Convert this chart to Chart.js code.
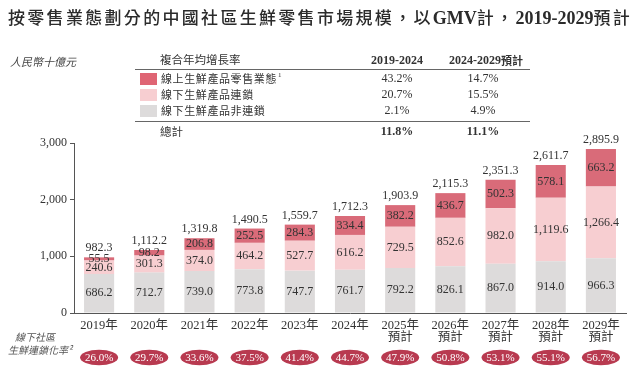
<!DOCTYPE html>
<html>
<head>
<meta charset="utf-8">
<script src="https://cdn.jsdelivr.net/npm/chart.js@4"></script>
<style>
  body { margin: 0; background: #fff; }
  canvas { display: block; }
</style>
</head>
<body>
<canvas id="chart" width="640" height="376"></canvas>
<script>
// data
const years = [
  '2019年', '2020年', '2021年', '2022年', '2023年', '2024年',
  ['2025年', '預計'], ['2026年', '預計'], ['2027年', '預計'], ['2028年', '預計'], ['2029年', '預計']
];
const nonChain = [686.2, 712.7, 739.0, 773.8, 747.7, 761.7, 792.2, 826.1, 867.0, 914.0, 966.3];
const chain = [240.6, 301.3, 374.0, 464.2, 527.7, 616.2, 729.5, 852.6, 982.0, 1119.6, 1266.4];
const online = [55.5, 98.2, 206.8, 252.5, 284.3, 334.4, 382.2, 436.7, 502.3, 578.1, 663.2];
const totals = [982.3, 1112.2, 1319.8, 1490.5, 1559.7, 1712.3, 1903.9, 2115.3, 2351.3, 2611.7, 2895.9];
const chainRate = ['26.0%', '29.7%', '33.6%', '37.5%', '41.4%', '44.7%', '47.9%', '50.8%', '53.1%', '55.1%', '56.7%'];
const yTicks = [0, 1000, 2000, 3000];

const seriesNames = ['線上生鮮產品零售業態', '線下生鮮產品連鎖', '線下生鮮產品非連鎖'];
const cagr2019 = ['43.2%', '20.7%', '2.1%'];
const cagr2024 = ['14.7%', '15.5%', '4.9%'];
const cagrTotal = ['11.8%', '11.1%'];

const SERIF = "'Liberation Serif', 'DejaVu Serif', serif";
const SANS = "'Noto Sans CJK TC', 'Noto Sans', sans-serif";
const TEXT = '#333';

const colors = {
  online: '#d96b79',
  chain: '#f7ced1',
  nonChain: '#dddbdb'
};

const fmt = v => v.toLocaleString('en-US', { minimumFractionDigits: 1, maximumFractionDigits: 1 });

// title, table, value labels, rate bubbles
const decorations = {
  id: 'decorations',
  afterDatasetsDraw(chart) {
    const ctx = chart.ctx;
    ctx.save();

    // title: mixed CJK / serif runs
    const parts = [
      ['按零售業態劃分的中國社區生鮮零售市場規模，以', 'cjk'],
      ['GMV', 'lat'],
      ['計，', 'cjk'],
      ['2019-2029', 'lat'],
      ['預計', 'cjk']
    ];
    const setFont = kind => {
      ctx.font = kind === 'cjk' ? '500 17px ' + SANS : 'bold 18px ' + SERIF;
    };
    let chars = 0, natural = 0;
    parts.forEach(([t, k]) => {
      setFont(k);
      natural += ctx.measureText(t).width;
      if (k === 'cjk') chars += t.length;
    });
    const spacing = (624 - natural) / chars;
    let x = 8;
    ctx.fillStyle = '#2b2b2b';
    ctx.textBaseline = 'alphabetic';
    ctx.textAlign = 'left';
    parts.forEach(([t, k]) => {
      setFont(k);
      if (k === 'cjk') {
        for (const ch of t) {
          ctx.fillText(ch, x, 24);
          x += ctx.measureText(ch).width + spacing;
        }
      } else {
        ctx.fillText(t, x, 24);
        x += ctx.measureText(t).width;
      }
    });

    // unit
    ctx.font = 'italic 11px ' + SANS;
    ctx.fillStyle = '#444';
    ctx.textBaseline = 'middle';
    ctx.fillText('人民幣十億元', 10, 62);

    // CAGR table
    ctx.fillStyle = TEXT;
    ctx.font = '11.5px ' + SANS;
    ctx.fillText('複合年均增長率', 160, 60);
    ctx.textAlign = 'center';
    ctx.font = 'bold 12px ' + SERIF;
    ctx.fillText('2019-2024', 397, 61);
    ctx.fillText('2024-2029', 475, 61);
    ctx.font = 'bold 11px ' + SANS;
    ctx.textAlign = 'left';
    ctx.fillText('預計', 501, 61);

    ctx.strokeStyle = '#666';
    ctx.lineWidth = 1;
    ctx.beginPath();
    ctx.moveTo(135, 69.5); ctx.lineTo(530, 69.5);
    ctx.moveTo(135, 121.5); ctx.lineTo(530, 121.5);
    ctx.stroke();

    const swatch = [chart.data.datasets[2], chart.data.datasets[1], chart.data.datasets[0]];
    seriesNames.forEach((name, i) => {
      const y = 79 + i * 16;
      ctx.fillStyle = i === 0 ? '#df6574' : swatch[i].backgroundColor;
      ctx.fillRect(140, y - 6, 17, 12);
      ctx.fillStyle = TEXT;
      ctx.textAlign = 'left';
      ctx.font = '11px ' + SANS;
      ctx.letterSpacing = '0.6px';
      ctx.fillText(name, 161, y);
      const w = ctx.measureText(name).width;
      ctx.letterSpacing = '0px';
      if (i === 0) {
        ctx.font = '7px ' + SERIF;
        ctx.fillText('1', 161 + w + 1, y - 4);
      }
      ctx.textAlign = 'center';
      ctx.font = '12px ' + SERIF;
      ctx.fillText(cagr2019[i], 397, y);
      ctx.fillText(cagr2024[i], 483, y);
    });
    ctx.textAlign = 'left';
    ctx.font = '11.5px ' + SANS;
    ctx.fillText('總計', 160, 132);
    ctx.textAlign = 'center';
    ctx.font = 'bold 12px ' + SERIF;
    ctx.fillText(cagrTotal[0], 397, 132);
    ctx.fillText(cagrTotal[1], 483, 132);

    // segment values
    ctx.font = '12px ' + SERIF;
    ctx.fillStyle = TEXT;
    chart.data.datasets.forEach((ds, di) => {
      const meta = chart.getDatasetMeta(di);
      meta.data.forEach((bar, i) => {
        const mid = (bar.y + bar.base) / 2;
        let y = mid;
        if (di === 1 && i === 0) y = mid + 1;
        ctx.fillText(fmt(ds.data[i]), bar.x, y);
      });
    });

    // totals above bars
    const top = chart.getDatasetMeta(2);
    top.data.forEach((bar, i) => {
      ctx.fillText(fmt(totals[i]), bar.x, bar.y - 9);
    });

    // chain-rate bubbles
    ctx.font = 'italic 10px ' + SANS;
    ctx.fillStyle = '#555';
    ctx.textAlign = 'left';
    ctx.fillText('線下社區', 15, 337);
    ctx.fillText('生鮮連鎖化率²', 8, 350);

    top.data.forEach((bar, i) => {
      ctx.fillStyle = '#b83a50';
      ctx.beginPath();
      ctx.ellipse(bar.x, 357.5, 19, 7.8, 0, 0, Math.PI * 2);
      ctx.fill();
      ctx.fillStyle = '#fff';
      ctx.textAlign = 'center';
      ctx.font = '11px ' + SERIF;
      ctx.fillText(chainRate[i], bar.x, 358);
    });

    ctx.restore();
  }
};

new Chart(document.getElementById('chart'), {
  type: 'bar',
  data: {
    labels: years,
    datasets: [
      { label: seriesNames[2], data: nonChain, backgroundColor: colors.nonChain },
      { label: seriesNames[1], data: chain, backgroundColor: colors.chain },
      { label: seriesNames[0], data: online, backgroundColor: colors.online }
    ]
  },
  options: {
    responsive: false,
    animation: false,
    devicePixelRatio: 1,
    datasets: {
      bar: { barPercentage: 0.6, categoryPercentage: 1, borderWidth: 0 }
    },
    layout: { padding: { top: 143, right: 14, left: 0, bottom: 0 } },
    plugins: {
      legend: { display: false },
      tooltip: { enabled: false }
    },
    scales: {
      x: {
        stacked: true,
        grid: { display: false },
        border: { display: true, color: '#555', width: 1 },
        ticks: {
          color: TEXT,
          padding: -2,
          maxRotation: 0,
          font: { family: SERIF + ", 'Noto Sans CJK TC'", size: 12.5, lineHeight: 1.0 }
        },
        afterFit: scale => { scale.height = 63; }
      },
      y: {
        stacked: true,
        min: 0,
        max: 3000,
        afterBuildTicks: scale => { scale.ticks = yTicks.map(v => ({ value: v })); },
        grid: { drawOnChartArea: false, drawTicks: true, tickLength: 4, color: '#555' },
        border: { display: true, color: '#555', width: 1 },
        ticks: {
          color: TEXT,
          padding: 3,
          font: { family: SERIF, size: 12 },
          callback: v => v.toLocaleString('en-US')
        },
        afterFit: scale => { scale.width = 74; }
      }
    }
  },
  plugins: [decorations]
});
</script>
</body>
</html>
